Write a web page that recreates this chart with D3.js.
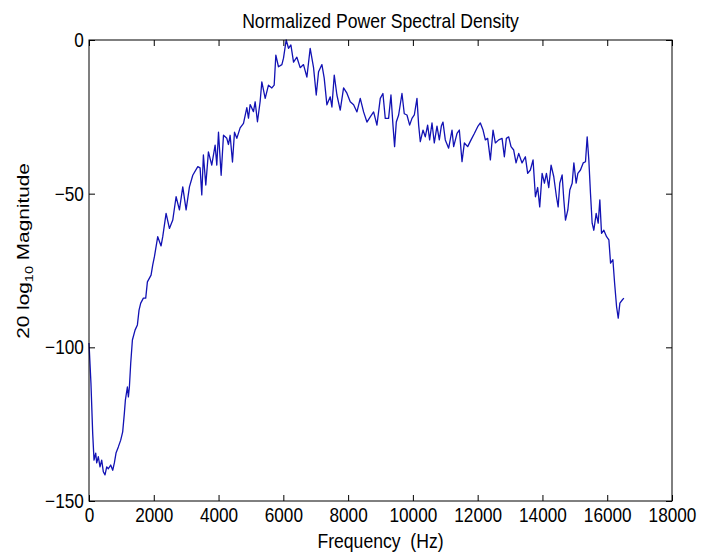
<!doctype html>
<html lang="en">

<head>
  <meta charset="UTF-8">
  <title>Normalized Power Spectral Density</title>
  <style type="text/css">
    body { margin: 0; background: #fff; }
    svg text { font-family: "Liberation Sans", Arial, sans-serif; fill: #000; }
  </style>
  <script src="https://cdn.jsdelivr.net/npm/d3@7/dist/d3.min.js"></script>
</head>

<body>
  <svg id="chart" width="703" height="555"></svg>
  <script>
    // values (Hz, dB)
    let freqHz = [0, 60, 114, 155, 207, 238, 288, 340, 392, 443, 494, 547, 597, 670, 732, 783, 834, 906, 979, 1040,
      1092, 1123, 1185, 1216, 1247, 1288, 1340, 1422, 1494, 1545, 1597, 1679, 1751, 1803, 1916, 1968, 2020, 2122, 2225, 2277,
      2380, 2483, 2586, 2689, 2792, 2895, 2998, 3101, 3204, 3359, 3430, 3482, 3532, 3606, 3687, 3790, 3894, 3946, 3998, 4080,
      4152, 4255, 4306, 4357, 4430, 4492, 4564, 4666, 4770, 4873, 4924, 4975, 5078, 5130, 5201, 5284, 5336, 5440, 5541, 5646,
      5717, 5769, 5850, 5955, 6005, 6088, 6160, 6233, 6315, 6418, 6520, 6623, 6727, 6829, 6933, 7016, 7088, 7191, 7262, 7345,
      7448, 7500, 7572, 7654, 7757, 7860, 7963, 8066, 8170, 8273, 8375, 8478, 8581, 8684, 8787, 8890, 8993, 9075, 9147, 9250,
      9323, 9385, 9435, 9488, 9560, 9663, 9734, 9817, 9900, 9972, 10044, 10126, 10178, 10229, 10312, 10383, 10455, 10517, 10590, 10661,
      10744, 10816, 10878, 10929, 11001, 11104, 11208, 11259, 11363, 11434, 11517, 11589, 11692, 11795, 11898, 12000, 12083, 12166, 12237, 12309,
      12392, 12475, 12546, 12649, 12753, 12824, 12886, 12958, 13030, 13112, 13185, 13267, 13370, 13473, 13544, 13627, 13710, 13783, 13853, 13916,
      13990, 14061, 14123, 14195, 14267, 14350, 14432, 14485, 14535, 14608, 14660, 14712, 14784, 14845, 14918, 14970, 15041, 15093, 15174, 15258,
      15329, 15381, 15432, 15484, 15535, 15587, 15659, 15721, 15772, 15824, 15896, 15980, 16051, 16103, 16175, 16227, 16289, 16340, 16391, 16464,
      16514]
    let magDb = [-98.6, -111.6, -128, -136.7, -134.4, -137.6, -135.6, -138.9, -136.7, -140.5, -141.5, -138.9, -139.5, -138.3, -140, -137.6, -134.4, -132.4, -130.2, -127.5,
      -121.4, -117.2, -112.9, -116.1, -112.9, -105.2, -97.6, -94.4, -92.7, -87.9, -85.6, -84, -84, -78.7, -76.5, -73.2, -70.5, -64, -67, -64,
      -56.4, -61.3, -58.6, -51, -55.3, -47.8, -55.3, -47.8, -44, -41.2, -41.6, -50.4, -37.4, -47.2, -36.4, -40.7, -34.2, -40.7, -30, -44,
      -31, -32, -34, -31, -39.7, -30, -32, -28.6, -27.1, -22, -25.4, -21, -23.3, -20.1, -26.6, -20, -13.6, -19, -14.7, -15.6,
      -14.7, -4.9, -8.7, -8, -5.9, 0, -2.7, -1.6, -7.2, -5.6, -9, -8, -12.1, -2.7, -9, -17.9, -10.3, -8, -12.4, -21.1,
      -18.5, -21.8, -11.4, -17.9, -22.8, -15.6, -17.3, -20.1, -21.1, -23.4, -19, -23.4, -26.7, -25, -23.4, -27.7, -19, -17.4, -25.5, -25.5,
      -17.9, -27.7, -34.7, -26.7, -24.4, -17.4, -24, -24.4, -27.7, -25.5, -24.4, -19, -27.7, -33.1, -29.3, -31.5, -27.7, -32.5, -27, -33.5,
      -28, -32.5, -28, -26.7, -32.5, -35.2, -29.3, -34.7, -30.4, -29.3, -39.6, -33.5, -34.7, -32.5, -30.4, -28.2, -27, -29.3, -32.5, -32,
      -39, -29.3, -33.5, -32.5, -32, -38, -32, -31.5, -34.7, -35.8, -40, -36.9, -40, -38, -43.4, -42.3, -39, -51, -48, -54.3,
      -43.4, -46.6, -43.4, -48, -40.7, -44.5, -51, -54.3, -46.6, -43.9, -52, -58.6, -55.3, -48.8, -46.6, -40, -46.6, -43.4, -42.3, -40,
      -39.6, -31.5, -39, -50, -59.6, -61.9, -56.4, -59.6, -52, -62.9, -61.9, -64, -65, -72.6, -71.5, -79, -86.8, -90.5, -85.6, -84.6,
      -84]
    let xTicks = [0, 2000, 4000, 6000, 8000, 10000, 12000, 14000, 16000, 18000]
    let yTicks = [-150, -100, -50, 0]

    let margin = { top: 40, right: 31, bottom: 54, left: 89 }
    let svg = d3.select('#chart')
    let w = +svg.attr('width') - margin.left - margin.right
    let h = +svg.attr('height') - margin.top - margin.bottom
    let g = svg.append('g').attr('transform', `translate(${margin.left},${margin.top})`)

    let x = d3.scaleLinear().domain([0, 18000]).range([0, w])
    let y = d3.scaleLinear().domain([-150, 0]).range([h, 0])

    // the curve
    let line = d3.line()
      .x(function (d, i) { return x(freqHz[i]); })
      .y(function (d) { return y(d); })
    g.append('path')
      .datum(magDb)
      .attr('fill', 'none')
      .attr('stroke', '#1212b4')
      .attr('stroke-width', 1.3)
      .attr('stroke-linejoin', 'round')
      .attr('d', line)

    // inward ticks on all four sides, like matlab; text squeezed to look like the narrow font
    function styleAxis(sel) {
      sel.select('.domain').remove()
      sel.selectAll('.tick line').attr('stroke', '#000')
      sel.selectAll('.tick text').style('font-size', '20px').attr('transform', 'scale(0.86,1)')
    }
    g.append('g').attr('transform', `translate(0,${h})`)
      .call(d3.axisBottom(x).tickValues(xTicks).tickSize(-6).tickPadding(7).tickFormat(d3.format('d')))
      .call(styleAxis)
    g.append('g')
      .call(d3.axisTop(x).tickValues(xTicks).tickSize(-6).tickFormat(''))
      .call(styleAxis)
    g.append('g')
      .call(d3.axisLeft(y).tickValues(yTicks).tickSize(-6).tickPadding(6).tickFormat(d3.format('d')))
      .call(styleAxis)
    g.append('g').attr('transform', `translate(${w},0)`)
      .call(d3.axisRight(y).tickValues(yTicks).tickSize(-6).tickFormat(''))
      .call(styleAxis)

    g.append('rect')
      .attr('width', w).attr('height', h)
      .attr('fill', 'none').attr('stroke', '#000').attr('stroke-width', 1)

    // labels
    svg.append('g').attr('transform', `translate(${margin.left + w / 2},28)`)
      .append('text')
      .attr('transform', 'scale(0.88,1)')
      .attr('text-anchor', 'middle').style('font-size', '20px')
      .text('Normalized Power Spectral Density')
    svg.append('g').attr('transform', `translate(${margin.left + w / 2},548)`)
      .append('text')
      .attr('transform', 'scale(0.88,1)')
      .attr('text-anchor', 'middle').style('font-size', '20px')
      .style('white-space', 'pre')
      .text('Frequency  (Hz)')

    let yl = svg.append('text')
      .attr('transform', 'translate(29,251) rotate(-90) scale(1.04,0.82)')
      .attr('text-anchor', 'middle').style('font-size', '20px')
    yl.append('tspan').text('20 log')
    yl.append('tspan').text('10').style('font-size', '14px').attr('dy', 5)
    yl.append('tspan').text(' Magnitude').attr('dy', -5)
  </script>
</body>

</html>
